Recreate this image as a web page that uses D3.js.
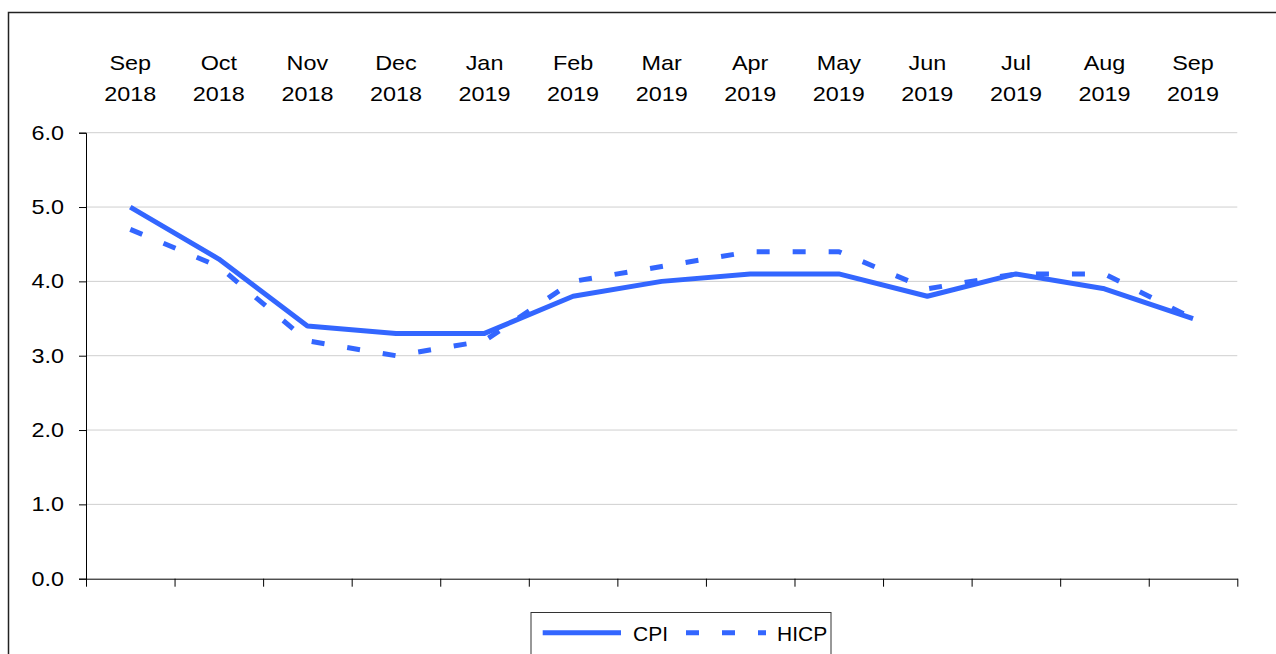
<!DOCTYPE html>
<html>
<head>
<meta charset="utf-8">
<script src="https://cdn.jsdelivr.net/npm/d3@7"></script>
<style>
  body { margin: 0; background: #fff; }
  text { font-family: "Liberation Sans", Arial, sans-serif; fill: #000; }
</style>
</head>
<body>
<script>
// data
months = ["Sep", "Oct", "Nov", "Dec", "Jan", "Feb", "Mar", "Apr", "May", "Jun", "Jul", "Aug", "Sep"]
years = ["2018", "2018", "2018", "2018", "2019", "2019", "2019", "2019", "2019", "2019", "2019", "2019", "2019"]
cpi = [5.0, 4.3, 3.4, 3.3, 3.3, 3.8, 4.0, 4.1, 4.1, 3.8, 4.1, 3.9, 3.5]
hicp = [4.7, 4.2, 3.2, 3.0, 3.2, 4.0, 4.2, 4.4, 4.4, 3.9, 4.1, 4.1, 3.5]
yTicks = [0, 1, 2, 3, 4, 5, 6]

blue = "#3366ff"
stretch = 1.17

w = 1276
h = 654

svg = d3.select("body").append("svg")
        .attr("width", w)
        .attr("height", h)

// outer frame
svg.append("path")
        .attr("d", "M8.5," + h + "V12.5H" + w)
        .attr("fill", "none")
        .attr("stroke", "#222")
        .attr("stroke-width", 1.5)

x = d3.scaleBand().domain(d3.range(months.length)).range([86, 1237.3]).padding(0)
xEdge = d3.scaleLinear().domain([0, months.length]).range([86, 1237.3])
y = d3.scaleLinear().domain([0, 6]).range([578.7, 132.7])

function cx(i) {
        return x(i) + x.bandwidth() / 2
}

// gridlines
svg.append("g").selectAll("line").data(yTicks.filter(function(d) { return d > 0 }))
        .enter().append("line")
        .attr("x1", 86).attr("x2", 1237.3)
        .attr("y1", function(d) { return y(d) })
        .attr("y2", function(d) { return y(d) })
        .attr("stroke", "#cfcfcf")
        .attr("stroke-width", 1)

// y axis
yAxis = svg.append("g")
        .attr("transform", "translate(86,0)")
        .call(d3.axisLeft(y).tickValues(yTicks).tickSize(7).tickFormat(""))
yAxis.select(".domain").attr("stroke", "#000")
yAxis.selectAll(".tick line").attr("stroke", "#000")

svg.append("g").selectAll("text").data(yTicks)
        .enter().append("text")
        .attr("transform", function(d) { return "translate(64," + (y(d) + 7) + ") scale(" + stretch + ",1)" })
        .attr("text-anchor", "end")
        .attr("font-size", 20)
        .text(function(d) { return d.toFixed(1) })

// x axis with ticks between categories
xAxis = svg.append("g")
        .attr("transform", "translate(0," + y(0) + ")")
        .call(d3.axisBottom(xEdge).tickValues(d3.range(months.length + 1)).tickSizeInner(8).tickSizeOuter(0).tickFormat(""))
xAxis.select(".domain").attr("stroke", "#000")
xAxis.selectAll(".tick line").attr("stroke", "#000")

// month labels on top
labels = svg.append("g").selectAll("g").data(months)
        .enter().append("g")
labels.append("text")
        .attr("transform", function(d, i) { return "translate(" + cx(i) + ",69.5) scale(" + stretch + ",1)" })
        .attr("text-anchor", "middle")
        .attr("font-size", 20)
        .text(function(d) { return d })
labels.append("text")
        .attr("transform", function(d, i) { return "translate(" + cx(i) + ",101) scale(" + stretch + ",1)" })
        .attr("text-anchor", "middle")
        .attr("font-size", 20)
        .text(function(d, i) { return years[i] })

line = d3.line()
        .x(function(d, i) { return cx(i) })
        .y(function(d) { return y(d) })

svg.append("path")
        .datum(hicp)
        .attr("d", line)
        .attr("fill", "none")
        .attr("stroke", blue)
        .attr("stroke-width", 5)
        .attr("stroke-dasharray", "13,23")

svg.append("path")
        .datum(cpi)
        .attr("d", line)
        .attr("fill", "none")
        .attr("stroke", blue)
        .attr("stroke-width", 5)
        .attr("stroke-linejoin", "round")

// legend
legend = svg.append("g")
legend.append("rect")
        .attr("x", 531).attr("y", 612.5)
        .attr("width", 300).attr("height", 60)
        .attr("fill", "#fff")
        .attr("stroke", "#333")
        .attr("stroke-width", 1)
legend.append("line")
        .attr("x1", 542.7).attr("x2", 621)
        .attr("y1", 632.7).attr("y2", 632.7)
        .attr("stroke", blue).attr("stroke-width", 5)
legend.append("text")
        .attr("x", 633).attr("y", 641)
        .attr("font-size", 21)
        .text("CPI")
legend.append("line")
        .attr("x1", 686).attr("x2", 766)
        .attr("y1", 632.7).attr("y2", 632.7)
        .attr("stroke", blue).attr("stroke-width", 5)
        .attr("stroke-dasharray", "13,23")
legend.append("text")
        .attr("x", 777).attr("y", 641)
        .attr("font-size", 21)
        .text("HICP")
</script>
</body>
</html>
